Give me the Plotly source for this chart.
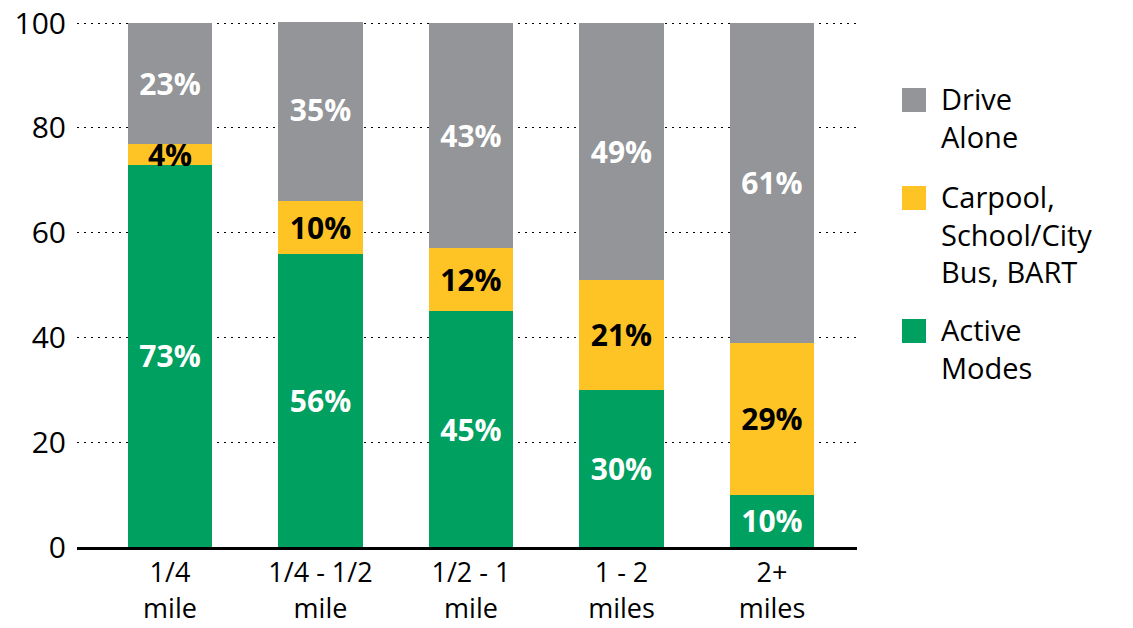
import plotly.graph_objects as go

categories = ["1/4<br>mile", "1/4 - 1/2<br>mile", "1/2 - 1<br>mile", "1 - 2<br>miles", "2+<br>miles"]
active_modes = [73, 56, 45, 30, 10]
carpool_bus = [4, 10, 12, 21, 29]
drive_alone = [23, 35, 43, 49, 61]
y_ticks = [0, 20, 40, 60, 80, 100]

GREEN = "#00A060"
YELLOW = "#FEC425"
GRAY = "#939598"
FONT = "Open Sans"
FS = 30

fig = go.Figure()
series = [
    ("Active Modes", active_modes, GREEN, "white"),
    ("Carpool, School/City Bus, BART", carpool_bus, YELLOW, "black"),
    ("Drive Alone", drive_alone, GRAY, "white"),
]
for name, vals, col, tcol in series:
    fig.add_trace(go.Bar(
        x=categories, y=vals, name=name, marker=dict(color=col, line=dict(width=0)),
        width=0.56, text=[f"{v}%" for v in vals], textposition="inside",
        insidetextanchor="middle", textangle=0,
        textfont=dict(family=FONT, size=FS, color=tcol, weight="bold"),
        showlegend=False,
    ))

# plot area in pixels
L, R, T, B = 77, 857, 22, 547
W, H = R - L, B - T

def px(x):
    return (x - L) / W

def py(y):
    return (B - y) / H

legend_items = [
    (GRAY, 88, "Drive<br>Alone"),
    (YELLOW, 186, "Carpool,<br>School/City<br>Bus, BART"),
    (GREEN, 319, "Active<br>Modes"),
]
shapes = []
annotations = []
for col, top, label in legend_items:
    shapes.append(dict(type="rect", xref="paper", yref="paper",
                       x0=px(902), x1=px(926), y0=py(top + 24), y1=py(top),
                       fillcolor=col, line=dict(width=0)))
    annotations.append(dict(xref="paper", yref="paper", x=px(939), y=py(top - 11),
                            xanchor="left", yanchor="top", align="left", showarrow=False,
                            text=label, font=dict(family=FONT, size=29, color="black")))

fig.update_layout(
    width=1133, height=628, autosize=False,
    margin=dict(l=L, r=1133 - R, t=T, b=628 - B, autoexpand=False),
    paper_bgcolor="white", plot_bgcolor="white",
    barmode="stack", bargap=0.44,
    font=dict(family=FONT, size=FS, color="black"),
    uniformtext=dict(minsize=FS, mode="show"),
    shapes=shapes, annotations=annotations,
    xaxis=dict(range=[-0.618, 4.565], showgrid=False, showline=True, linewidth=3,
               linecolor="black", ticks="", automargin=False, ticklabelstandoff=0,
               tickfont=dict(family=FONT, size=27, color="black")),
    yaxis=dict(range=[0, 100.2], tickvals=y_ticks, showgrid=True, gridcolor="black",
               gridwidth=1, griddash="2px,5px", zeroline=False, showline=False,
               ticks="", ticklabelstandoff=10, automargin=False,
               tickfont=dict(family=FONT, size=FS, color="black")),
)

fig.write_html("out.html")
